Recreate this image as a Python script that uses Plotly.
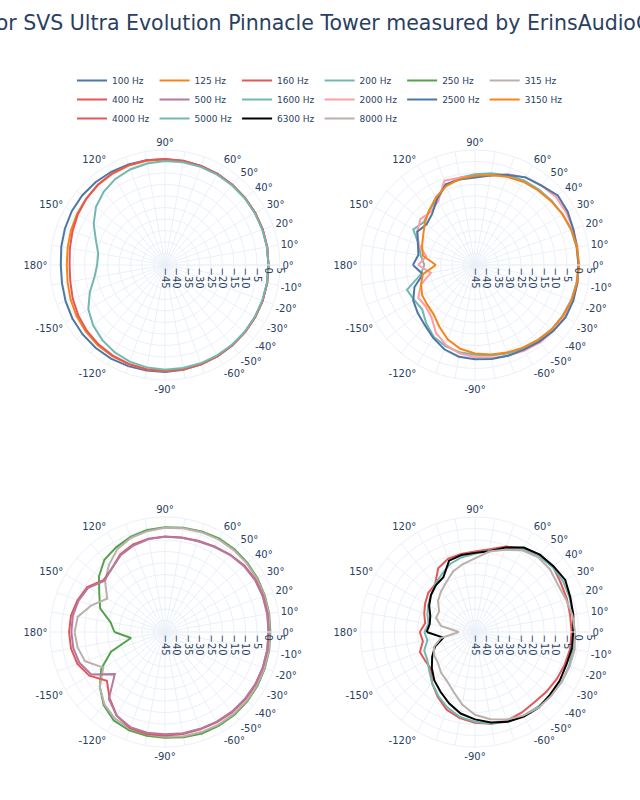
import plotly.graph_objects as go

title_text = "Polar for SVS Ultra Evolution Pinnacle Tower measured by ErinsAudioCorner"

angles = list(range(-180, 181, 10))

# panel 1
hz100 = [0.3, 0.5, 1.0, 1.5, 1.8, 2.0, 2.0, 1.8, 1.6, 1.5, 1.3, 1.0, 0.8, 0.6, 0.4, 0.3, 0.2, 0.1, 0.0,
         0.1, 0.2, 0.3, 0.4, 0.5, 0.7, 0.8, 0.9, 1.0, 1.2, 1.5, 1.8, 2.0, 2.0, 1.8, 1.3, 0.8, 0.3]
hz125 = [-2.3, -2.0, -1.3, -0.6, 0.0, 0.5, 0.8, 1.0, 1.1, 1.2, 1.1, 1.0, 0.8, 0.6, 0.4, 0.3, 0.2, 0.1, 0.0,
         0.1, 0.2, 0.3, 0.4, 0.5, 0.6, 0.7, 0.8, 0.9, 1.0, 1.0, 0.8, 0.4, -0.2, -0.8, -1.4, -2.0, -2.3]
hz160 = [-3.5, -3.2, -2.3, -1.4, -0.6, 0.0, 0.5, 0.8, 1.0, 1.1, 1.0, 0.9, 0.7, 0.5, 0.4, 0.3, 0.2, 0.1, 0.0,
         0.1, 0.2, 0.3, 0.4, 0.5, 0.7, 0.8, 1.0, 1.1, 1.2, 1.2, 1.0, 0.5, -0.3, -1.2, -2.2, -3.0, -3.5]
hz200 = [-15.5, -13.8, -10.2, -6.5, -4.2, -2.5, -1.2, -0.3, 0.2, 0.5, 0.5, 0.5, 0.4, 0.3, 0.2, 0.1, 0.0, 0.0, 0.0,
         0.0, 0.0, 0.1, 0.2, 0.3, 0.4, 0.4, 0.4, 0.2, -0.2, -0.8, -1.8, -3.5, -5.8, -9.2, -13.0, -15.5, -15.5]
# panel 2
hz1600 = [-23, -21, -13.5, -14.5, -15, -12, -9, -7.5, -6.5, -6, -5, -4, -3, -2, -1.5, -1, -0.5, -0.2, 0,
          -0.2, -0.5, -1, -1.5, -2, -2.5, -3.5, -4.5, -5.5, -6.5, -8, -12, -14, -16, -14, -19, -21, -23]
hz2000 = [-20.3, -25.5, -20, -16.5, -17, -15.5, -11, -8, -6, -5, -4, -3, -2, -1, -0.5, 0, 0.2, 0.2, 0,
          0.2, 0.5, 0.8, 1, 0, -1, -3, -5.5, -6.5, -6.5, -6, -13, -15, -14, -16, -19, -23.5, -20.3]
hz2500 = [-18, -22, -17, -14, -12.5, -11, -8.5, -6, -4.5, -4, -3.5, -3, -2.5, -1.5, -0.5, 0.5, 0.5, 0.2, 0,
          0, 0.5, 1.5, 2, 0, -1, -3.3, -5.5, -7, -7.3, -7.7, -12, -16, -17.5, -16, -18.6, -20, -18]
hz3150 = [-28, -22, -20, -18.5, -18, -17, -14, -10.5, -8, -6.5, -5.5, -4.5, -3.5, -2.5, -1.5, -0.8, -0.3, 0, 0.3,
          0, -0.3, -1, -1.8, -2.5, -3.2, -4.2, -5.3, -6.2, -7, -8.5, -11, -14, -16.5, -19, -20.5, -22, -28]
# panel 3
hz250 = [-23, -30, -20, -13, -8, -3.5, -0.5, 0.5, 0.8, 1, 1.5, 2, 2, 2, 1.8, 1.5, 1.2, 1, 0.8,
         1, 1.2, 1.5, 1.8, 2, 2, 1.5, 1, 0.5, 0, -1, -2.5, -4, -7.5, -12, -15, -21, -23]
hz315 = [-5.7, -6.4, -8, -14, -8, -4, -1.5, -0.3, 0.2, 0.5, 1, 1.3, 1.5, 1.5, 1.4, 1.2, 1, 0.8, 0.5,
         0.8, 1, 1.2, 1.4, 1.5, 1.5, 1.2, 0.8, 0.3, -0.5, -1.5, -3.5, -7, -11, -16, -11, -6.5, -5.7]
hz400 = [-3.3, -3.5, -4.5, -7, -12, -7.5, -3, -0.5, 0, 0, 0, 0, 0.3, 0.5, 0.5, 0.5, 0.3, 0.2, 0,
         0.3, 0.5, 0.5, 0, -1, -2, -2.8, -3.3, -3.5, -3.8, -4.5, -6, -9, -10, -6, -4.5, -3.5, -3.3]
hz500 = [-4.3, -4.5, -5.5, -8, -16.5, -7, -3, -1, -0.5, -0.5, -0.3, -0.2, 0, 0.2, 0.3, 0.3, 0.2, 0.1, 0,
         0.1, 0.2, 0.2, -0.3, -1.2, -2.2, -3, -3.4, -3.6, -4, -5, -6.5, -9, -10.5, -6.5, -5, -4.3, -4.3]
# panel 4
hz4000 = [-21, -22, -19.5, -20, -20, -16, -12.5, -9, -7, -5.5, -4.5, -4, -4.5, -5, -4.5, -4, -3.5, -3, -3,
          -3, -2.5, -2, -0.8, -1.5, -3, -5.5, -8.5, -10, -10.5, -11, -13, -18, -18.5, -20, -21.5, -23, -21]
hz5000 = [-23, -24, -21.5, -21, -19, -16, -13, -10, -7.5, -6, -4.5, -3.5, -3, -2.5, -2, -1.5, -1.5, -1.8, -2,
          -1.8, -1.2, -0.8, -1, -1.8, -3.5, -6.5, -9, -11, -12, -13.5, -16, -18, -20, -21.5, -23, -24.5, -23]
hz6300 = [-24, -31, -26.5, -23.5, -20.5, -17.5, -15, -12, -9, -7, -5, -3.5, -2.5, -2, -2.5, -2.5, -2.8, -2.3, -2.3,
          -1.6, -0.9, 0.3, -0.5, -1.1, -2.6, -5.9, -9.3, -10.6, -11, -12, -17.5, -18.5, -20, -22, -24.3, -25, -24]
hz8000 = [-38, -30, -26, -24.5, -24, -22, -20.5, -17.5, -13, -9, -6.5, -4.5, -3, -2, -1.8, -1.5, -1.2, -1, -1.5,
          -2, -3, -3.5, -2.5, -2.5, -4, -7, -9.5, -13, -15, -17, -20, -22, -24, -27, -27, -30, -38]

series = [
    ("100 Hz", hz100, "#4C78A8", 1), ("125 Hz", hz125, "#F58518", 1),
    ("160 Hz", hz160, "#E45756", 1), ("200 Hz", hz200, "#72B7B2", 1),
    ("250 Hz", hz250, "#54A24B", 3), ("315 Hz", hz315, "#BAB0AC", 3),
    ("400 Hz", hz400, "#E45756", 3), ("500 Hz", hz500, "#B279A2", 3),
    ("1600 Hz", hz1600, "#72B7B2", 2), ("2000 Hz", hz2000, "#FF9DA6", 2),
    ("2500 Hz", hz2500, "#4C78A8", 2), ("3150 Hz", hz3150, "#F58518", 2),
    ("4000 Hz", hz4000, "#E45756", 4), ("5000 Hz", hz5000, "#72B7B2", 4),
    ("6300 Hz", hz6300, "#000000", 4), ("8000 Hz", hz8000, "#BAB0AC", 4),
]

fig = go.Figure()
for name, vals, color, p in series:
    fig.add_trace(go.Scatterpolar(
        r=vals, theta=angles, mode="lines", name=name,
        line=dict(color=color, width=2), subplot="polar" if p == 1 else f"polar{p}",
    ))

tick_vals = list(range(0, 360, 10))
shown = {0: "0°", 10: "10°", 20: "20°", 30: "30°", 40: "40°", 50: "50°", 60: "60°", 90: "90°",
         120: "120°", 150: "150°", 180: "180°", 210: "-150°", 240: "-120°", 270: "-90°",
         300: "-60°", 310: "-50°", 320: "-40°", 330: "-30°", 340: "-20°", 350: "-10°"}
tick_text = [shown.get(v, "") for v in tick_vals]

W, H = 640, 800
ML, MR = 50, 50
PW = W - ML - MR
R = 115
centers = {1: (165, 265), 2: (475, 265), 3: (165, 632), 4: (475, 632)}
FONT = "DejaVu Sans"

def polar_layout(cx, cy):
    return dict(
        domain=dict(x=[(cx - R - ML) / PW, (cx + R - ML) / PW],
                    y=[(H - cy - R) / H, (H - cy + R) / H]),
        bgcolor="white",
        radialaxis=dict(range=[-45, 5], dtick=5, tick0=0, angle=0, tickangle=90,
                        gridcolor="#EBF0F8", linecolor="#EBF0F8", showline=True,
                        tickfont=dict(family=FONT, size=10, color="#2a3f5f"), ticks=""),
        angularaxis=dict(rotation=0, direction="counterclockwise", tickmode="array",
                         tickvals=tick_vals, ticktext=tick_text,
                         gridcolor="#EBF0F8", linecolor="#EBF0F8", showline=True,
                         tickfont=dict(family=FONT, size=10, color="#2a3f5f"), ticks=""),
    )

fig.update_layout(
    template="plotly_white",
    width=W, height=H,
    font=dict(family=FONT, color="#2a3f5f"),
    margin=dict(l=ML, r=MR, t=0, b=0),
    title=dict(text=title_text, x=318 / W, xanchor="center", y=1 - 23 / H, yanchor="middle",
               font=dict(family=FONT, size=20.5, color="#2a3f5f")),
    legend=dict(orientation="h", x=0.5, xanchor="center", y=1 - 66 / H, yanchor="top",
                font=dict(family=FONT, size=9, color="#2a3f5f")),
    polar=polar_layout(*centers[1]),
    polar2=polar_layout(*centers[2]),
    polar3=polar_layout(*centers[3]),
    polar4=polar_layout(*centers[4]),
)

fig.write_html("out.html")
